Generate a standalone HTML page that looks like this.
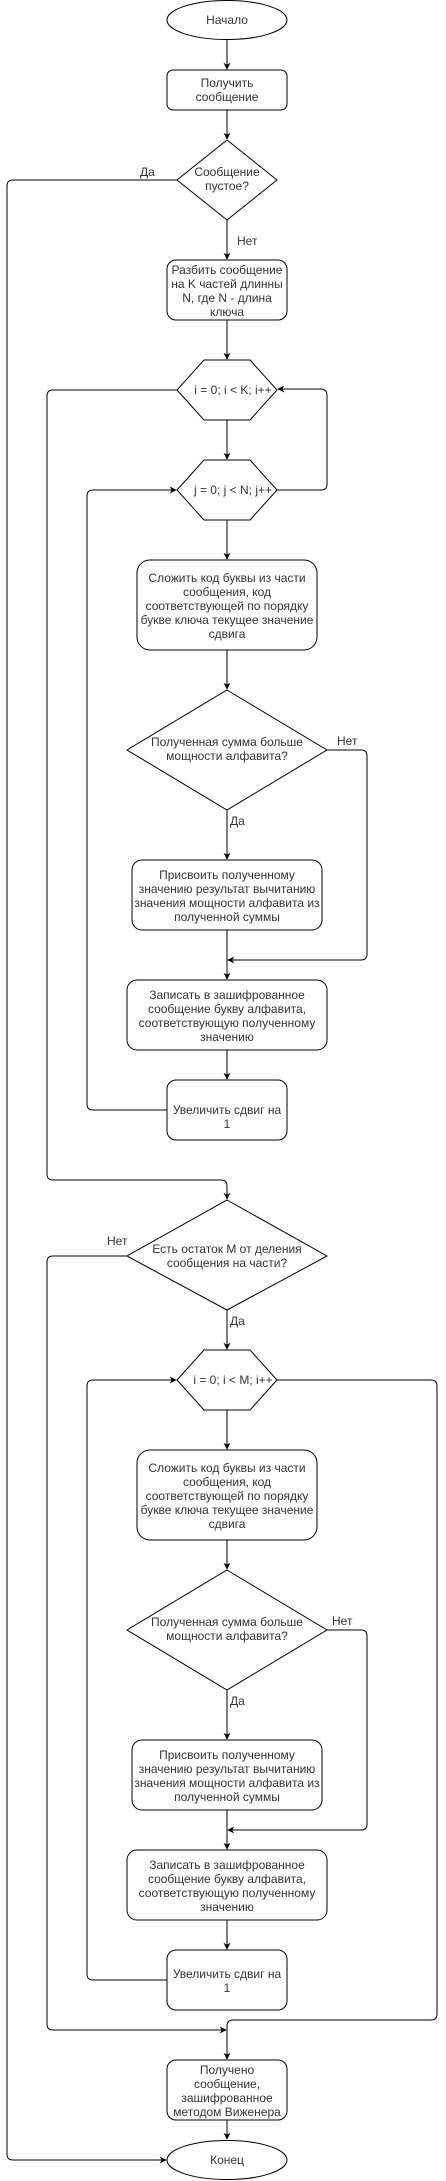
<!DOCTYPE html>
<html><head><meta charset="utf-8"><style>
html,body{margin:0;padding:0;background:#fff;}
svg{display:block;}
text{font-family:"Liberation Sans",Arial,sans-serif;font-size:12px;fill:#333;}
</style></head><body>
<svg width="446" height="2181" viewBox="0 0 446 2181" xmlns="http://www.w3.org/2000/svg">
<defs>
<marker id="a" viewBox="0 0 10 10" refX="9" refY="5" markerWidth="7" markerHeight="7" orient="auto" markerUnits="userSpaceOnUse">
<path d="M0,0 L10,5 L0,10 L3,5 Z" fill="#000"/>
</marker>
</defs>
<g fill="none" stroke="#000" stroke-width="1">
<ellipse cx="227" cy="20" rx="60" ry="19.5" fill="#fff"/>
<rect x="167" y="70" width="120" height="40" rx="6" fill="#fff"/>
<polygon points="227,140 277,180 227,220 177,180" fill="#fff"/>
<rect x="167" y="260" width="120" height="60" rx="9" fill="#fff"/>
<polygon points="204,360 250,360 277,390 250,420 204,420 177,390" fill="#fff"/>
<polygon points="204,460 250,460 277,490 250,520 204,520 177,490" fill="#fff"/>
<rect x="137" y="560" width="180" height="90" rx="13" fill="#fff"/>
<polygon points="227,690 327,750 227,810 127,750" fill="#fff"/>
<rect x="132" y="860" width="190" height="70" rx="10" fill="#fff"/>
<rect x="127" y="980" width="200" height="70" rx="10" fill="#fff"/>
<rect x="167" y="1080" width="120" height="60" rx="9" fill="#fff"/>
<polygon points="227,1200 327,1256 227,1310 127,1256" fill="#fff"/>
<polygon points="204,1350 250,1350 277,1380 250,1410 204,1410 177,1380" fill="#fff"/>
<rect x="137" y="1450" width="180" height="90" rx="13" fill="#fff"/>
<polygon points="227,1570 327,1630 227,1690 127,1630" fill="#fff"/>
<rect x="132" y="1740" width="190" height="70" rx="10" fill="#fff"/>
<rect x="127" y="1850" width="200" height="70" rx="10" fill="#fff"/>
<rect x="167" y="1950" width="120" height="60" rx="9" fill="#fff"/>
<rect x="167" y="2060" width="120" height="60" rx="9" fill="#fff"/>
<ellipse cx="227" cy="2160" rx="60" ry="19.5" fill="#fff"/>

<path d="M227,40 V69" marker-end="url(#a)"/>
<path d="M227,110 V139" marker-end="url(#a)"/>
<path d="M227,220 V259" marker-end="url(#a)"/>
<path d="M227,320 V359" marker-end="url(#a)"/>
<path d="M227,420 V459" marker-end="url(#a)"/>
<path d="M227,520 V559" marker-end="url(#a)"/>
<path d="M227,650 V689" marker-end="url(#a)"/>
<path d="M227,810 V859" marker-end="url(#a)"/>
<path d="M227,930 V979" marker-end="url(#a)"/>
<path d="M227,1050 V1079" marker-end="url(#a)"/>
<path d="M327,750 H361 Q367,750 367,756 V954 Q367,960 361,960 H228" marker-end="url(#a)"/>
<path d="M167,1110 H93 Q87,1110 87,1104 V496 Q87,490 93,490 H176" marker-end="url(#a)"/>
<path d="M277,490 H321 Q327,490 327,484 V396 Q327,389 321,389 H278" marker-end="url(#a)"/>
<path d="M177,390 H53 Q47,390 47,396 V1174 Q47,1180 53,1180 H221 Q227,1180 227,1186 V1199" marker-end="url(#a)"/>
<path d="M177,180 H13 Q7,180 7,186 V2154 Q7,2160 13,2160 H166" marker-end="url(#a)"/>
<path d="M227,1310 V1349" marker-end="url(#a)"/>
<path d="M227,1410 V1449" marker-end="url(#a)"/>
<path d="M227,1540 V1569" marker-end="url(#a)"/>
<path d="M227,1690 V1739" marker-end="url(#a)"/>
<path d="M227,1810 V1849" marker-end="url(#a)"/>
<path d="M227,1920 V1949" marker-end="url(#a)"/>
<path d="M327,1630 H361 Q367,1630 367,1636 V1824 Q367,1830 361,1830 H228" marker-end="url(#a)"/>
<path d="M167,1980 H93 Q87,1980 87,1974 V1386 Q87,1380 93,1380 H176" marker-end="url(#a)"/>
<path d="M127,1256 H53 Q47,1256 47,1262 V2024 Q47,2030 53,2030 H226" marker-end="url(#a)"/>
<path d="M277,1380 H431 Q437,1380 437,1386 V2014 Q437,2020 431,2020 H233 Q227,2020 227,2026 V2059" marker-end="url(#a)"/>
<path d="M227,2120 V2139" marker-end="url(#a)"/>
</g>

<g text-anchor="middle">
<text x="227" y="24">Начало</text>
<text x="227" y="87">Получить</text>
<text x="227" y="101">сообщение</text>
<text x="227" y="176">Сообщение</text>
<text x="227" y="190">пустое?</text>
<text x="227" y="274">Разбить сообщение</text>
<text x="227" y="288">на K частей длинны</text>
<text x="227" y="302">N, где N - длина</text>
<text x="227" y="316">ключа</text>
<text x="233" y="394">i = 0; i &lt; K; i++</text>
<text x="233" y="494">j = 0; j &lt; N; j++</text>
<text x="227" y="582">Сложить код буквы из части</text>
<text x="227" y="596">сообщения, код</text>
<text x="227" y="610">соответствующей по порядку</text>
<text x="227" y="624">букве ключа текущее значение</text>
<text x="227" y="638">сдвига</text>
<text x="227" y="746">Полученная сумма больше</text>
<text x="227" y="760">мощности алфавита?</text>
<text x="227" y="879">Присвоить полученному</text>
<text x="227" y="893">значению результат вычитанию</text>
<text x="227" y="907">значения мощности алфавита из</text>
<text x="227" y="921">полученной суммы</text>
<text x="227" y="999">Записать в зашифрованное</text>
<text x="227" y="1013">сообщение букву алфавита,</text>
<text x="227" y="1027">соответствующую полученному</text>
<text x="227" y="1041">значению</text>
<text x="227" y="1114">Увеличить сдвиг на</text>
<text x="227" y="1128">1</text>
<text x="227" y="1253">Есть остаток M от деления</text>
<text x="227" y="1267">сообщения на части?</text>
<text x="233" y="1384">i = 0; i &lt; M; i++</text>
<text x="227" y="1472">Сложить код буквы из части</text>
<text x="227" y="1486">сообщения, код</text>
<text x="227" y="1500">соответствующей по порядку</text>
<text x="227" y="1514">букве ключа текущее значение</text>
<text x="227" y="1528">сдвига</text>
<text x="227" y="1626">Полученная сумма больше</text>
<text x="227" y="1640">мощности алфавита?</text>
<text x="227" y="1759">Присвоить полученному</text>
<text x="227" y="1773">значению результат вычитанию</text>
<text x="227" y="1787">значения мощности алфавита из</text>
<text x="227" y="1801">полученной суммы</text>
<text x="227" y="1869">Записать в зашифрованное</text>
<text x="227" y="1883">сообщение букву алфавита,</text>
<text x="227" y="1897">соответствующую полученному</text>
<text x="227" y="1911">значению</text>
<text x="227" y="1978">Увеличить сдвиг на</text>
<text x="227" y="1992">1</text>
<text x="227" y="2074">Получено</text>
<text x="227" y="2088">сообщение,</text>
<text x="227" y="2102">зашифрованное</text>
<text x="227" y="2116">методом Виженера</text>
<text x="227" y="2164">Конец</text>
</g>
<g>
<text x="140" y="176">Да</text>
<text x="237" y="245">Нет</text>
<text x="337" y="745">Нет</text>
<text x="230" y="825">Да</text>
<text x="107" y="1245">Нет</text>
<text x="230" y="1325">Да</text>
<text x="332" y="1625">Нет</text>
<text x="230" y="1705">Да</text>
</g>
</svg>
</body></html>
